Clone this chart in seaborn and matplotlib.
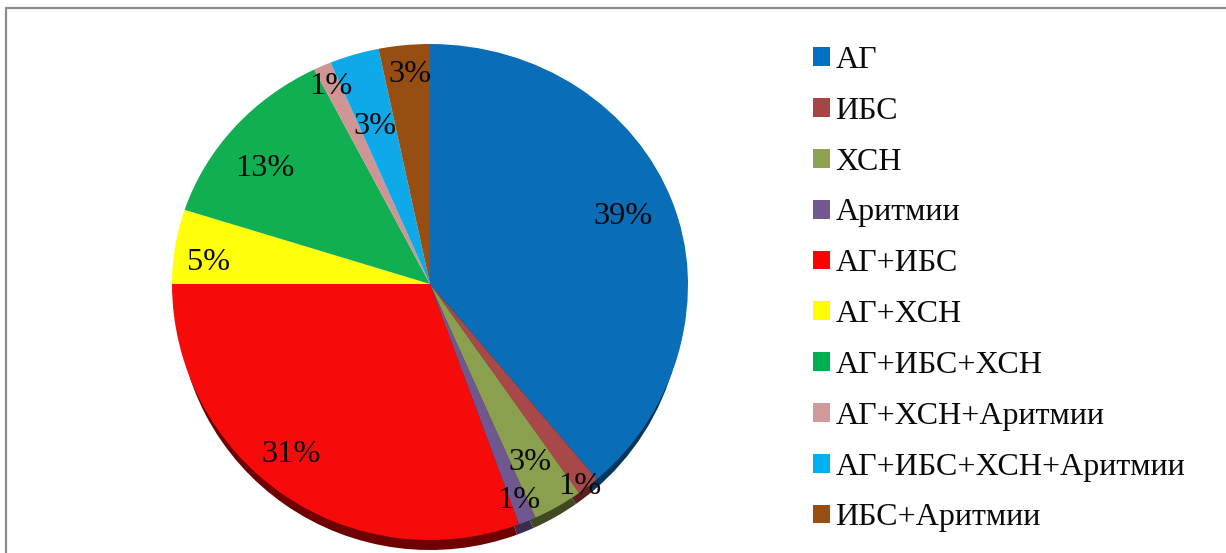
import matplotlib
matplotlib.use("Agg")
import matplotlib.pyplot as plt
from matplotlib.lines import Line2D
from matplotlib.patches import Patch
import seaborn as sns

categories = ["АГ", "ИБС", "ХСН", "Аритмии", "АГ+ИБС", "АГ+ХСН", "АГ+ИБС+ХСН",
              "АГ+ХСН+Аритмии", "АГ+ИБС+ХСН+Аритмии", "ИБС+Аритмии"]
values = [38.8, 1.4, 3.1, 1.1, 30.6, 5.0, 12.6, 1.1, 3.1, 3.2]
face_colors = ["#0A6DB8", "#A84848", "#8BA04F", "#70578F", "#F60A0A",
               "#FFFF0A", "#0FAF52", "#CF9595", "#0EA9E8", "#974E12"]
legend_colors = ["#0070C0", "#A94444", "#8CA44F", "#71588F", "#FF0000",
                 "#FFFF00", "#00B050", "#D09A9A", "#00B0F0", "#974E12"]
side_colors = ["#03345A", "#5A2020", "#3F4A20", "#3C2C50", "#6E0000",
               "#808000", "#005A28", "#705050", "#005878", "#4A2508"]
label_px = [(623, 216), (580, 487), (530, 463), (519, 500), (291, 455),
            (209, 262), (265, 168), (331, 86), (375, 127), (410, 74)]

W, H = 1226, 553
sns.set_theme(style="white")
plt.rcParams["font.family"] = ["Liberation Serif", "DejaVu Serif"]
fig = plt.figure(figsize=(W / 100, H / 100), dpi=100, facecolor="white")

cx, cy, rx = 430, 284, 258
ry_top, ry_bot, depth = 240, 256, 10
side_radius = 0.98


def axes_px(x0, y0, x1, y1):
    return fig.add_axes([x0 / W, 1 - y1 / H, (x1 - x0) / W, (y1 - y0) / H])


def draw_pie(ax, colors, center=(0, 0), radius=1):
    wedges, _ = ax.pie(values, colors=colors, startangle=90, counterclock=False,
                       radius=radius, center=center, wedgeprops={"linewidth": 0})
    for w in wedges:
        w.set_clip_on(True)
        w.set_clip_path(ax.patch)


# lower half (slightly taller, with the dark side of the 3D pie below it)
low = axes_px(cx - rx, cy, cx + rx, cy + ry_bot + depth)
draw_pie(low, side_colors, center=(0, -depth / ry_bot - (1 - side_radius)), radius=side_radius)
draw_pie(low, face_colors)
low.set_xlim(-1, 1)
low.set_ylim(-(ry_bot + depth) / ry_bot, 0)
low.set_aspect("auto")

# upper half
up = axes_px(cx - rx, cy - ry_top, cx + rx, cy)
draw_pie(up, face_colors)
up.set_xlim(-1, 1)
up.set_ylim(0, 1)
up.set_aspect("auto")

for v, (x, y) in zip(values, label_px):
    fig.text(x / W, 1 - y / H, f"{v:.0f}%", ha="center", va="center",
             fontsize=23.2, color="#0a0a0a", zorder=10)

handles = [Patch(facecolor=c, edgecolor="none") for c in legend_colors]
fig.legend(handles, categories, loc="upper left",
           bbox_to_anchor=(813 / W, 1 - 46 / H), frameon=False,
           fontsize=23, handlelength=0.53, handleheight=0.53, handletextpad=0.17,
           labelspacing=0.683, borderpad=0, borderaxespad=0, labelcolor="#0a0a0a")

for xs, ys in [((6, 6), (8, 553)), ((6, 1226), (8, 8))]:
    fig.add_artist(Line2D([x / W for x in xs], [1 - y / H for y in ys],
                          transform=fig.transFigure, color="#8c8c8c", linewidth=1.6))

fig.savefig("out.png", dpi=100)
